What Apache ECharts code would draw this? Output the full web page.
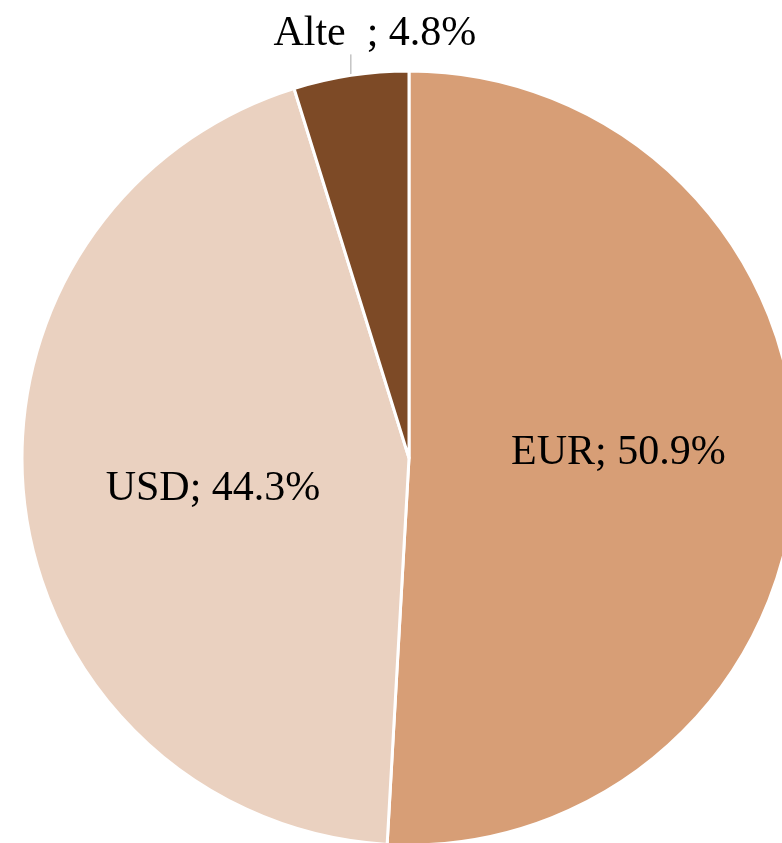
<!DOCTYPE html>
<html>
<head>
<meta charset="utf-8">
<script src="https://cdn.jsdelivr.net/npm/echarts@6/dist/echarts.min.js"></script>
<style>
  html, body { margin: 0; padding: 0; background: #fff; }
  #chart { width: 782px; height: 843px; }
</style>
</head>
<body>
<div id="chart"></div>
<script>
// data
var categories = ['EUR', 'USD', 'Alte  '];
var shares = [50.9, 44.3, 4.8];
var colors = ['#D79E76', '#EAD1C0', '#7D4A26'];

// label nudges (Excel "best fit" places them a bit differently)
var labelOffsets = [[13, -11], [-1, 7], null];

var chart = echarts.init(document.getElementById('chart'));

var pieData = categories.map(function (name, i) {
    var item = {
        name: name,
        value: shares[i],
        itemStyle: { color: colors[i] }
    };
    if (labelOffsets[i]) {
        item.label = { position: 'inside', offset: labelOffsets[i] };
        item.labelLine = { show: false };
    } else {
        item.label = { position: 'outside' };
        item.labelLine = { show: true, length: 22, length2: 0 };
    }
    return item;
});

var option = {
    backgroundColor: '#ffffff',
    animation: false,
    series: [{
        type: 'pie',
        center: [409, 458],
        radius: [0, 387],
        startAngle: 90,
        clockwise: true,
        avoidLabelOverlap: false,
        itemStyle: { borderColor: '#ffffff', borderWidth: 3 },
        label: {
            fontFamily: 'Liberation Serif',
            fontSize: 42,
            color: '#000000',
            formatter: function (p) {
                return p.name + '; ' + p.value.toFixed(1) + '%';
            }
        },
        labelLine: {
            lineStyle: { color: '#A6A6A6', width: 1 }
        },
        labelLayout: function (params) {
            if (params.dataIndex !== 2 || !params.labelLinePoints) return {};
            var p0 = params.labelLinePoints[0];
            var top = p0[1] - 21;
            return {
                x: p0[0] + 24,
                y: top - 20,
                align: 'center',
                verticalAlign: 'middle',
                labelLinePoints: [[p0[0], p0[1]], [p0[0], top], [p0[0], top]]
            };
        },
        data: pieData
    }]
};

chart.setOption(option);
</script>
</body>
</html>
